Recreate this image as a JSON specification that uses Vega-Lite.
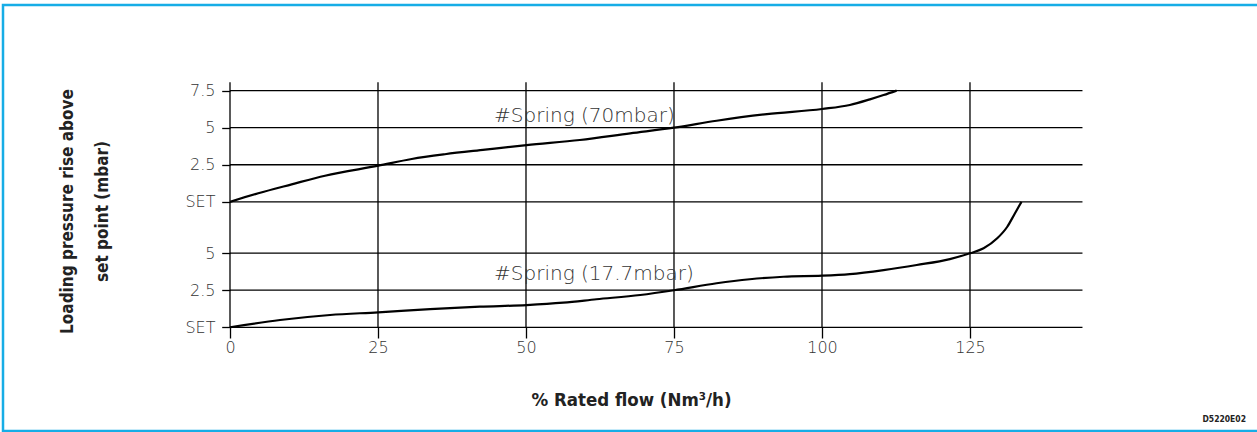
{
  "$schema": "https://vega.github.io/schema/vega-lite/v6.json",
  "width": 1256,
  "height": 426,
  "autosize": {"type": "none"},
  "padding": {"left": 3, "top": 5, "right": -2, "bottom": 1},
  "background": "white",
  "config": {"view": {"stroke": "#16ade6", "strokeWidth": 2.5}},
  "title": {
    "text": "D5220E02",
    "orient": "bottom",
    "anchor": "end",
    "frame": "group",
    "offset": -9.3,
    "dx": -13,
    "baseline": "alphabetic",
    "font": "DejaVu Sans Condensed, Liberation Sans",
    "fontWeight": "bold",
    "fontSize": 8.5,
    "color": "#222"
  },
  "datasets": {
    "hgrid": [{"y": 0}, {"y": 2.5}, {"y": 5}, {"y": 8.46}, {"y": 10.96}, {"y": 13.46}, {"y": 15.96}],
    "vgrid": [{"x": 0}, {"x": 25}, {"x": 50}, {"x": 75}, {"x": 100}, {"x": 125}],
    "curves": [
      {"series": "70mbar", "x": 0, "y": 8.46},
      {"series": "70mbar", "x": 4.78, "y": 9.04},
      {"series": "70mbar", "x": 10.42, "y": 9.64},
      {"series": "70mbar", "x": 16.05, "y": 10.22},
      {"series": "70mbar", "x": 25.05, "y": 10.9},
      {"series": "70mbar", "x": 30.7, "y": 11.35},
      {"series": "70mbar", "x": 36.3, "y": 11.67},
      {"series": "70mbar", "x": 43.1, "y": 11.98},
      {"series": "70mbar", "x": 50.1, "y": 12.29},
      {"series": "70mbar", "x": 59.1, "y": 12.63},
      {"series": "70mbar", "x": 67.6, "y": 13.08},
      {"series": "70mbar", "x": 75, "y": 13.46},
      {"series": "70mbar", "x": 82.2, "y": 13.93},
      {"series": "70mbar", "x": 90.7, "y": 14.38},
      {"series": "70mbar", "x": 100, "y": 14.72},
      {"series": "70mbar", "x": 104.7, "y": 14.99},
      {"series": "70mbar", "x": 108.1, "y": 15.37},
      {"series": "70mbar", "x": 110.4, "y": 15.66},
      {"series": "70mbar", "x": 112.6, "y": 15.96},
      {"series": "17.7mbar", "x": 0, "y": 0},
      {"series": "17.7mbar", "x": 8.45, "y": 0.49},
      {"series": "17.7mbar", "x": 16.9, "y": 0.83},
      {"series": "17.7mbar", "x": 25.05, "y": 1.01},
      {"series": "17.7mbar", "x": 33.8, "y": 1.23},
      {"series": "17.7mbar", "x": 42.2, "y": 1.39},
      {"series": "17.7mbar", "x": 50.1, "y": 1.5},
      {"series": "17.7mbar", "x": 56.3, "y": 1.66},
      {"series": "17.7mbar", "x": 61.9, "y": 1.89},
      {"series": "17.7mbar", "x": 69.3, "y": 2.18},
      {"series": "17.7mbar", "x": 75, "y": 2.5},
      {"series": "17.7mbar", "x": 82.2, "y": 2.97},
      {"series": "17.7mbar", "x": 87.8, "y": 3.24},
      {"series": "17.7mbar", "x": 93.5, "y": 3.41},
      {"series": "17.7mbar", "x": 100, "y": 3.48},
      {"series": "17.7mbar", "x": 104.7, "y": 3.59},
      {"series": "17.7mbar", "x": 110.4, "y": 3.86},
      {"series": "17.7mbar", "x": 116, "y": 4.2},
      {"series": "17.7mbar", "x": 121.6, "y": 4.6},
      {"series": "17.7mbar", "x": 125, "y": 4.99},
      {"series": "17.7mbar", "x": 127.3, "y": 5.33},
      {"series": "17.7mbar", "x": 129.6, "y": 6.0},
      {"series": "17.7mbar", "x": 131.3, "y": 6.78},
      {"series": "17.7mbar", "x": 132.6, "y": 7.69},
      {"series": "17.7mbar", "x": 133.7, "y": 8.46}
    ],
    "labels": [
      {"label": "#Spring (70mbar)", "x": 44.6, "y": 13.86},
      {"label": "#Spring (17.7mbar)", "x": 44.6, "y": 3.16}
    ]
  },
  "layer": [
    {
      "data": {"name": "hgrid"},
      "mark": {"type": "rule", "color": "black", "strokeWidth": 1.3},
      "encoding": {
        "y": {
          "field": "y", "type": "quantitative",
          "scale": {"domain": [-6.993, 21.733], "nice": false, "zero": false},
          "axis": {
            "orient": "left", "offset": -227, "values": [0, 2.5, 5, 8.46, 10.96, 13.46, 15.96],
            "labelExpr": "datum.value == 0 || datum.value == 8.46 ? 'SET' : (datum.value == 2.5 || datum.value == 10.96) ? '2.5' : (datum.value == 5 || datum.value == 13.46) ? '5' : '7.5'",
            "domain": false, "grid": false, "ticks": true, "tickSize": 8.3, "tickColor": "black", "tickWidth": 1.3,
            "labelPadding": 6.7, "labelFont": "DejaVu Sans", "labelFontWeight": 200, "labelFontSize": 16, "labelColor": "#333",
            "title": ["Loading pressure rise above", "set point (mbar)"], "titleFont": "DejaVu Sans Condensed, Liberation Sans", "titleFontWeight": "bold",
            "titleFontSize": 17, "titleColor": "#222", "titleAngle": -90, "titleX": -158, "titleY": 206,
            "titleBaseline": "alphabetic", "titleAlign": "center", "titleLineHeight": 35
          }
        },
        "x": {
          "datum": 0, "type": "quantitative",
          "scale": {"domain": [-38.345, 173.82], "nice": false, "zero": false},
          "axis": {
            "orient": "bottom", "offset": -103.7, "values": [0, 25, 50, 75, 100, 125],
            "domain": false, "grid": false, "ticks": true, "tickSize": 10.7, "tickColor": "black", "tickWidth": 1.3,
            "labelPadding": 1, "labelFont": "DejaVu Sans", "labelFontWeight": 200, "labelFontSize": 16, "labelColor": "#333",
            "title": "% Rated flow (Nm³/h)", "titleFont": "DejaVu Sans Condensed, Liberation Sans", "titleFontWeight": "bold", "titleFontSize": 18.5,
            "titleColor": "#222", "titleX": 628, "titleY": 77.7, "titleBaseline": "alphabetic", "titleAlign": "center"
          }
        },
        "x2": {"datum": 144}
      }
    },
    {
      "data": {"name": "vgrid"},
      "mark": {"type": "rule", "color": "black", "strokeWidth": 1.3},
      "encoding": {
        "x": {
          "field": "x", "type": "quantitative",
          "scale": {"domain": [-38.345, 173.82], "nice": false, "zero": false},
          "axis": {
            "orient": "bottom", "offset": -103.7, "values": [0, 25, 50, 75, 100, 125],
            "domain": false, "grid": false, "ticks": true, "tickSize": 10.7, "tickColor": "black", "tickWidth": 1.3,
            "labelPadding": 1, "labelFont": "DejaVu Sans", "labelFontWeight": 200, "labelFontSize": 16, "labelColor": "#333",
            "title": "% Rated flow (Nm³/h)", "titleFont": "DejaVu Sans Condensed, Liberation Sans", "titleFontWeight": "bold", "titleFontSize": 18.5,
            "titleColor": "#222", "titleX": 628, "titleY": 77.7, "titleBaseline": "alphabetic", "titleAlign": "center"
          }
        },
        "y": {
          "datum": 0, "type": "quantitative",
          "scale": {"domain": [-6.993, 21.733], "nice": false, "zero": false},
          "axis": {
            "orient": "left", "offset": -227, "values": [0, 2.5, 5, 8.46, 10.96, 13.46, 15.96],
            "labelExpr": "datum.value == 0 || datum.value == 8.46 ? 'SET' : (datum.value == 2.5 || datum.value == 10.96) ? '2.5' : (datum.value == 5 || datum.value == 13.46) ? '5' : '7.5'",
            "domain": false, "grid": false, "ticks": true, "tickSize": 8.3, "tickColor": "black", "tickWidth": 1.3,
            "labelPadding": 6.7, "labelFont": "DejaVu Sans", "labelFontWeight": 200, "labelFontSize": 16, "labelColor": "#333",
            "title": ["Loading pressure rise above", "set point (mbar)"], "titleFont": "DejaVu Sans Condensed, Liberation Sans", "titleFontWeight": "bold",
            "titleFontSize": 17, "titleColor": "#222", "titleAngle": -90, "titleX": -158, "titleY": 206,
            "titleBaseline": "alphabetic", "titleAlign": "center", "titleLineHeight": 35
          }
        },
        "y2": {"datum": 16.52}
      }
    },
    {
      "data": {"name": "curves"},
      "mark": {"type": "line", "color": "black", "strokeWidth": 2.2, "interpolate": "monotone"},
      "encoding": {
        "detail": {"field": "series", "type": "nominal"},
        "x": {
          "field": "x", "type": "quantitative",
          "scale": {"domain": [-38.345, 173.82], "nice": false, "zero": false},
          "axis": {
            "orient": "bottom", "offset": -103.7, "values": [0, 25, 50, 75, 100, 125],
            "domain": false, "grid": false, "ticks": true, "tickSize": 10.7, "tickColor": "black", "tickWidth": 1.3,
            "labelPadding": 1, "labelFont": "DejaVu Sans", "labelFontWeight": 200, "labelFontSize": 16, "labelColor": "#333",
            "title": "% Rated flow (Nm³/h)", "titleFont": "DejaVu Sans Condensed, Liberation Sans", "titleFontWeight": "bold", "titleFontSize": 18.5,
            "titleColor": "#222", "titleX": 628, "titleY": 77.7, "titleBaseline": "alphabetic", "titleAlign": "center"
          }
        },
        "y": {
          "field": "y", "type": "quantitative",
          "scale": {"domain": [-6.993, 21.733], "nice": false, "zero": false},
          "axis": {
            "orient": "left", "offset": -227, "values": [0, 2.5, 5, 8.46, 10.96, 13.46, 15.96],
            "labelExpr": "datum.value == 0 || datum.value == 8.46 ? 'SET' : (datum.value == 2.5 || datum.value == 10.96) ? '2.5' : (datum.value == 5 || datum.value == 13.46) ? '5' : '7.5'",
            "domain": false, "grid": false, "ticks": true, "tickSize": 8.3, "tickColor": "black", "tickWidth": 1.3,
            "labelPadding": 6.7, "labelFont": "DejaVu Sans", "labelFontWeight": 200, "labelFontSize": 16, "labelColor": "#333",
            "title": ["Loading pressure rise above", "set point (mbar)"], "titleFont": "DejaVu Sans Condensed, Liberation Sans", "titleFontWeight": "bold",
            "titleFontSize": 17, "titleColor": "#222", "titleAngle": -90, "titleX": -158, "titleY": 206,
            "titleBaseline": "alphabetic", "titleAlign": "center", "titleLineHeight": 35
          }
        }
      }
    },
    {
      "data": {"name": "labels"},
      "mark": {"type": "text", "align": "left", "baseline": "alphabetic", "font": "DejaVu Sans", "fontWeight": 200, "fontSize": 20, "color": "#333"},
      "encoding": {
        "text": {"field": "label", "type": "nominal"},
        "x": {
          "field": "x", "type": "quantitative",
          "scale": {"domain": [-38.345, 173.82], "nice": false, "zero": false},
          "axis": {
            "orient": "bottom", "offset": -103.7, "values": [0, 25, 50, 75, 100, 125],
            "domain": false, "grid": false, "ticks": true, "tickSize": 10.7, "tickColor": "black", "tickWidth": 1.3,
            "labelPadding": 1, "labelFont": "DejaVu Sans", "labelFontWeight": 200, "labelFontSize": 16, "labelColor": "#333",
            "title": "% Rated flow (Nm³/h)", "titleFont": "DejaVu Sans Condensed, Liberation Sans", "titleFontWeight": "bold", "titleFontSize": 18.5,
            "titleColor": "#222", "titleX": 628, "titleY": 77.7, "titleBaseline": "alphabetic", "titleAlign": "center"
          }
        },
        "y": {
          "field": "y", "type": "quantitative",
          "scale": {"domain": [-6.993, 21.733], "nice": false, "zero": false},
          "axis": {
            "orient": "left", "offset": -227, "values": [0, 2.5, 5, 8.46, 10.96, 13.46, 15.96],
            "labelExpr": "datum.value == 0 || datum.value == 8.46 ? 'SET' : (datum.value == 2.5 || datum.value == 10.96) ? '2.5' : (datum.value == 5 || datum.value == 13.46) ? '5' : '7.5'",
            "domain": false, "grid": false, "ticks": true, "tickSize": 8.3, "tickColor": "black", "tickWidth": 1.3,
            "labelPadding": 6.7, "labelFont": "DejaVu Sans", "labelFontWeight": 200, "labelFontSize": 16, "labelColor": "#333",
            "title": ["Loading pressure rise above", "set point (mbar)"], "titleFont": "DejaVu Sans Condensed, Liberation Sans", "titleFontWeight": "bold",
            "titleFontSize": 17, "titleColor": "#222", "titleAngle": -90, "titleX": -158, "titleY": 206,
            "titleBaseline": "alphabetic", "titleAlign": "center", "titleLineHeight": 35
          }
        }
      }
    }
  ]
}
